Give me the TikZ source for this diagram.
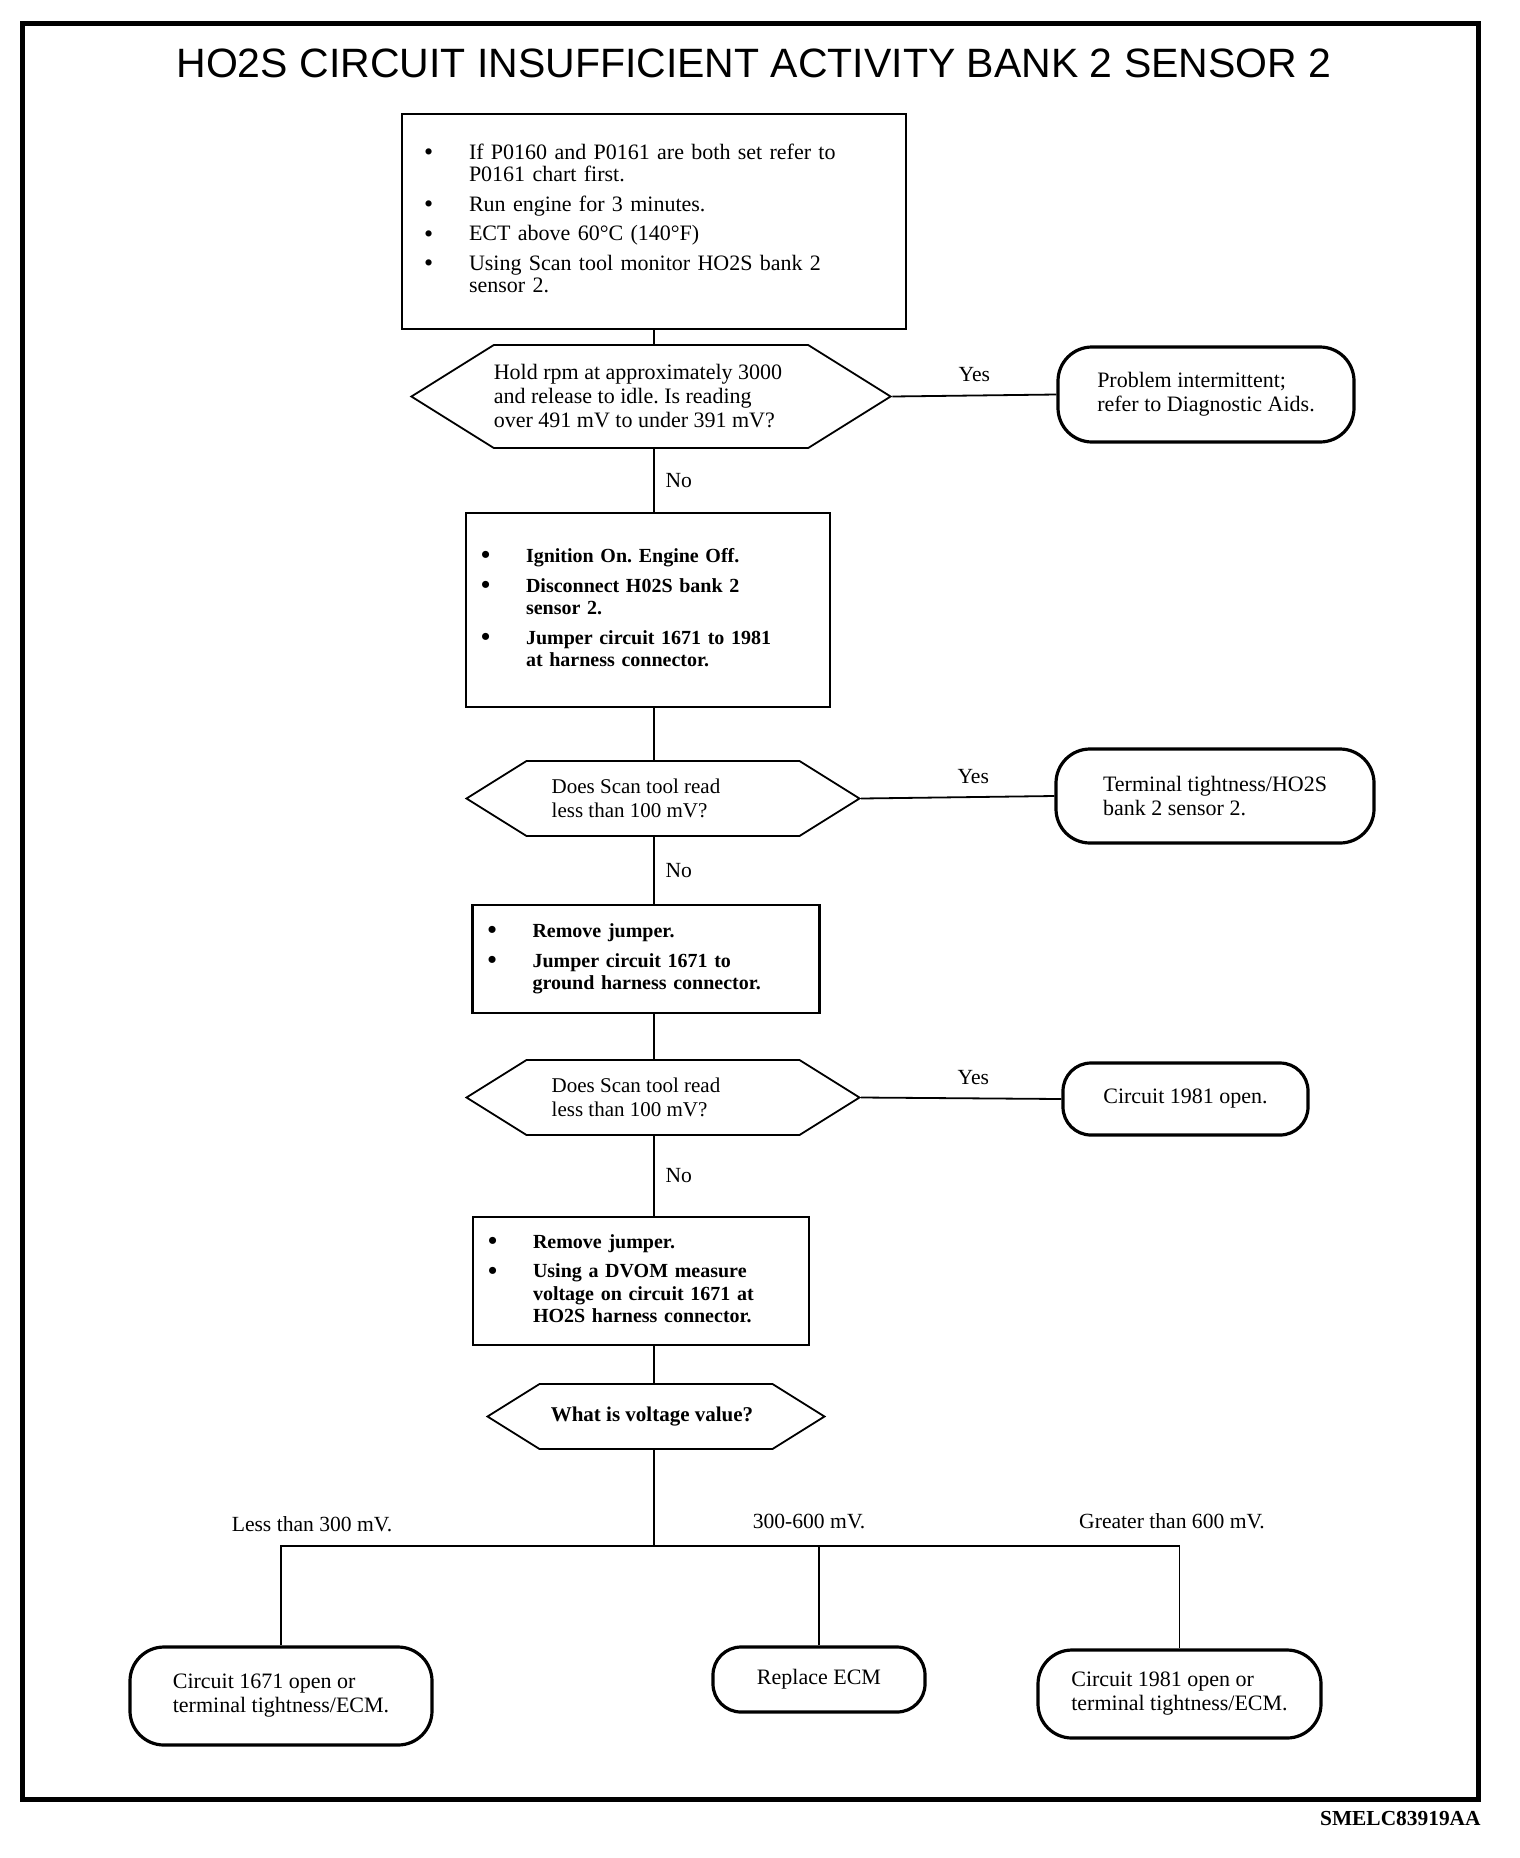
\documentclass[tikz,border=0pt]{standalone}
\usepackage{fontspec}
\setmainfont{Liberation Serif}
\newfontfamily\headfont{Liberation Sans}
\usetikzlibrary{positioning,shapes.symbols}

\tikzset{
  stepbox/.style={draw, line width=1.1pt, align=left, inner ysep=0pt},
  query/.style={draw, line width=0.9pt, signal, signal to=west and east,
    signal pointer angle=64, align=left, inner sep=0pt},
  endbox/.style={draw, line width=1.6pt, rounded corners=#1, align=left, inner sep=0pt},
  endbox/.default=17pt,
  link/.style={line width=0.9pt},
  answer/.style={font=\fontsize{10.8}{12}\selectfont},
}
\frenchspacing
\newcommand{\bt}{\raisebox{-0.6pt}{\fontsize{13}{11}\selectfont\textbullet}}
\newcommand{\bodyfont}{\fontsize{11}{11}\selectfont}
\newcommand{\boldbody}{\bfseries\fontsize{10}{11.2}\selectfont}
\newcommand{\askfont}{\fontsize{11}{12}\selectfont}
\newcommand{\smallask}{\fontsize{10.5}{12}\selectfont}

\begin{document}
\begin{tikzpicture}[x=0.5pt, y=-0.5pt]
\useasboundingbox (0,0) rectangle (1520,1858);
\draw[line width=2.5pt] (22,23.5) rectangle (1478,1799.5);

\node[anchor=base, font=\headfont\fontsize{20.5}{22}\selectfont] (title) at (754,77)
  {HO2S CIRCUIT INSUFFICIENT ACTIVITY BANK 2 SENSOR 2};
\node[anchor=base east, inner sep=0pt, font=\bfseries\fontsize{10.7}{12}\selectfont] (code) at (1481,1825)
  {SMELC83919AA};

\coordinate (spine) at (654,0);

% first checks
\node[stepbox, minimum height=107.5pt, text width=230pt, inner xsep=11pt, font=\bodyfont] (b1) at (654,221.5)
  {\begin{tabular}{@{}p{22.5pt}@{}l@{}}
  \bt & If P0160 and P0161 are both set refer to\\
      & P0161 chart first.\\[3.8pt]
  \bt & Run engine for 3 minutes.\\[3.8pt]
  \bt & ECT above 60\textdegree C (140\textdegree F)\\[3.8pt]
  \bt & Using Scan tool monitor HO2S bank 2\\
      & sensor 2.
  \end{tabular}};
\node[query, minimum width=238.5pt, minimum height=51.5pt, font=\askfont] (d1) at (651,396.5)
  {Hold rpm at approximately 3000\hspace*{13pt}\\and release to idle. Is reading\\over 491 mV to under 391 mV?};
\node[endbox, minimum width=148pt, minimum height=47.5pt, font=\askfont] (t1) at (1206,394.5)
  {Problem intermittent;\\refer to Diagnostic Aids.};

% jumper 1671 to 1981
\node[stepbox, minimum height=97pt, text width=167pt, inner xsep=7.5pt, font=\boldbody] (b2) at (648,610)
  {\begin{tabular}{@{}p{22.5pt}@{}l@{}}
  \bt & Ignition On. Engine Off.\\[3.6pt]
  \bt & Disconnect H02S bank 2\\
      & sensor 2.\\[3.6pt]
  \bt & Jumper circuit 1671 to 1981\\
      & at harness connector.
  \end{tabular}};
\node[query, minimum width=196.5pt, minimum height=37.5pt, font=\smallask] (d2) at (663,798.5)
  {Does Scan tool read\hspace*{27pt}\\less than 100 mV?};
\node[endbox, minimum width=159pt, minimum height=47pt, font=\askfont] (t2) at (1215,796)
  {Terminal tightness/HO2S\\bank 2 sensor 2.};

% jumper 1671 to ground
\node[stepbox, minimum height=54pt, text width=158.5pt, inner xsep=7.5pt, font=\boldbody] (b3) at (646,959)
  {\begin{tabular}{@{}p{22.5pt}@{}l@{}}
  \bt & Remove jumper.\\[3.6pt]
  \bt & Jumper circuit 1671 to\\
      & ground harness connector.
  \end{tabular}};
\node[query, minimum width=196.5pt, minimum height=37.5pt, font=\smallask] (d3) at (663,1097.5)
  {Does Scan tool read\hspace*{27pt}\\less than 100 mV?};
\node[endbox=14pt, minimum width=122.5pt, minimum height=36pt, font=\askfont] (t3) at (1185.5,1099)
  {Circuit 1981 open.};

% voltage on 1671
\node[stepbox, minimum height=64pt, text width=153pt, inner xsep=7.5pt, font=\boldbody] (b4) at (641,1281)
  {\begin{tabular}{@{}p{22.5pt}@{}l@{}}
  \bt & Remove jumper.\\[3.6pt]
  \bt & Using a DVOM measure\\
      & voltage on circuit 1671 at\\
      & HO2S harness connector.
  \end{tabular}};
\node[query, minimum width=168.5pt, minimum height=32.5pt, font=\bfseries\fontsize{10.5}{12}\selectfont] (d4) at (656,1416.5)
  {What is voltage value?\hspace*{4pt}};

\node[endbox, minimum width=151pt, minimum height=49pt, font=\askfont] (tL) at (281,1696)
  {Circuit 1671 open or\\terminal tightness/ECM.};
\node[endbox=14pt, minimum width=106pt, minimum height=32.5pt, font=\askfont] (tM) at (819,1679.5)
  {Replace ECM};
\node[endbox, minimum width=141.5pt, minimum height=44pt, font=\askfont] (tR) at (1179.5,1694)
  {Circuit 1981 open or\\terminal tightness/ECM.};

\node[answer] (lo) at (312,1524) {Less than 300 mV.};
\node[answer] (mid) at (809,1521) {300-600 mV.};
\node[answer] (hi) at (1172,1521) {Greater than 600 mV.};
\coordinate (split) at (654,1546);

% connectors
\draw[link] (b1.south -| spine) -- (d1.north -| spine);
\draw[link] (d1.south -| spine) -- node[answer, right=2pt] {No} (b2.north -| spine);
\draw[link] (d1.east) -- node[answer, above=3pt, pos=0.5] {Yes} (t1.west);
\draw[link] (b2.south -| spine) -- (d2.north -| spine);
\draw[link] (d2.south -| spine) -- node[answer, right=2pt] {No} (b3.north -| spine);
\draw[link] (d2.east) -- node[answer, above=3pt, pos=0.58] {Yes} (t2.west);
\draw[link] (b3.south -| spine) -- (d3.north -| spine);
\draw[link] (d3.south -| spine) -- node[answer, right=2pt] {No} (b4.north -| spine);
\draw[link] (d3.east) -- node[answer, above=3pt, pos=0.56] {Yes} (t3.west);
\draw[link] (b4.south -| spine) -- (d4.north -| spine);
\draw[link] (d4.south -| spine) -- (split);
\draw[link] (tL.north) |- (split) -| (tR.north);
\draw[link] (tM.north) -- (tM.north |- split);
\end{tikzpicture}
\end{document}
